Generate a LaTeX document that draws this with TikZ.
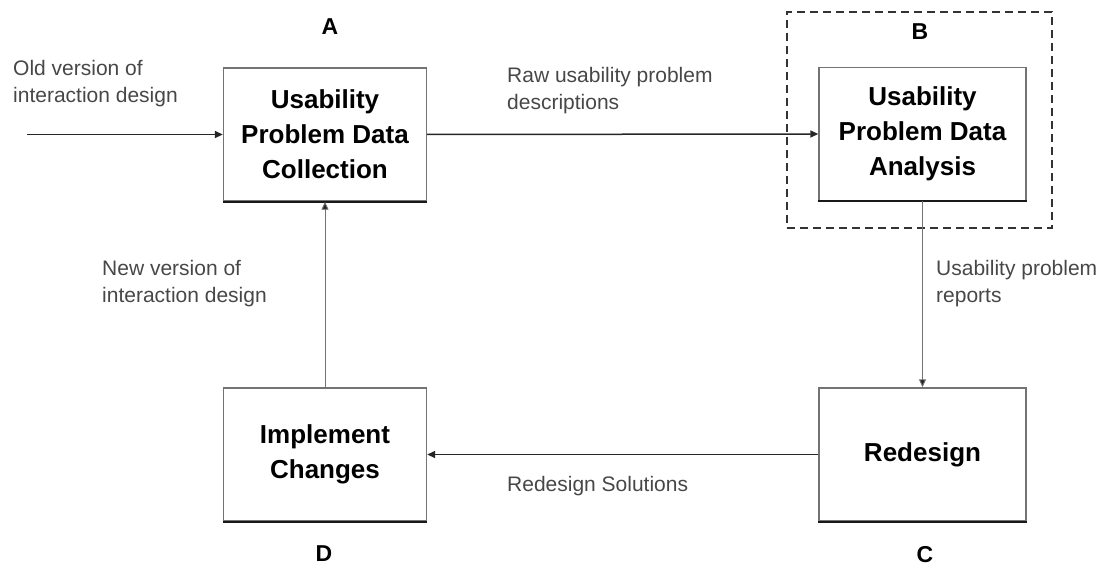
\documentclass[tikz,border=0pt]{standalone}
\usepackage{fontspec}
\setmainfont{Liberation Sans}
\usetikzlibrary{arrows.meta}
\begin{document}
\begin{tikzpicture}[x=1pt,y=-1pt,
  stage/.style={draw=black!55, line width=1.4pt, fill=white,
    minimum width=203pt, minimum height=133pt, align=center, inner sep=0pt,
    font=\fontsize{26}{35}\selectfont\bfseries},
  baseedge/.style={draw=black!90, line width=1.8pt},
  tag/.style={inner sep=0pt, font=\fontsize{23}{23}\selectfont\bfseries},
  note/.style={inner sep=0pt, anchor=west, align=left, text=black!72,
    font=\fontsize{21}{27}\selectfont},
  group/.style={draw=black!80, line width=1.8pt, dash pattern=on 8pt off 5pt,
    minimum width=265pt, minimum height=216pt, inner sep=0pt},
  flow/.style={draw=black!85, line width=1.5pt,
    -{Triangle[length=8pt,width=7pt]}},
  feed/.style={draw=black!55, line width=0.9pt,
    -{Triangle[length=8pt,width=7pt,fill=black!85]}},
]
\useasboundingbox (0,0) rectangle (1109,575);

% process stages
\node[stage] (A) at (325,134.5) {Usability\\Problem Data\\Collection};
\node[stage, minimum width=207pt] (B) at (922.5,134) {Usability\\Problem Data\\Analysis};
\node[stage, minimum width=207pt] (C) at (922.5,454.5) {Redesign};
\node[stage] (D) at (325,454.5) {Implement\\Changes};
\foreach \n in {A,B,C,D}
  \draw[baseedge] (\n.south west) -- (\n.south east);

% analysis group
\node[group] (grp) at (919.5,120) {};

% stage letters
\node[tag] (tA) at (330,27) {A};
\node[tag] (tB) at (920,32) {B};
\node[tag] (tC) at (925,555) {C};
\node[tag] (tD) at (324,554) {D};

% connectors
\coordinate (start) at (27,134.5);
\draw[flow] (start) -- (A.west);
\draw[flow] (A.east) -- (B.west);
\draw[feed] (B.south) -- (C.north);
\draw[flow] (C.west) -- (D.east);
\draw[feed] (D.north) -- (A.south);

% connector notes
\node[note] (n1) at (13,84) {Old version of\\interaction design};
\node[note] (n2) at (507,91) {Raw usability problem\\descriptions};
\node[note] (n3) at (936,284) {Usability problem\\reports};
\node[note] (n4) at (102,284) {New version of\\interaction design};
\node[note] (n5) at (507,486) {Redesign Solutions};
\end{tikzpicture}
\end{document}
